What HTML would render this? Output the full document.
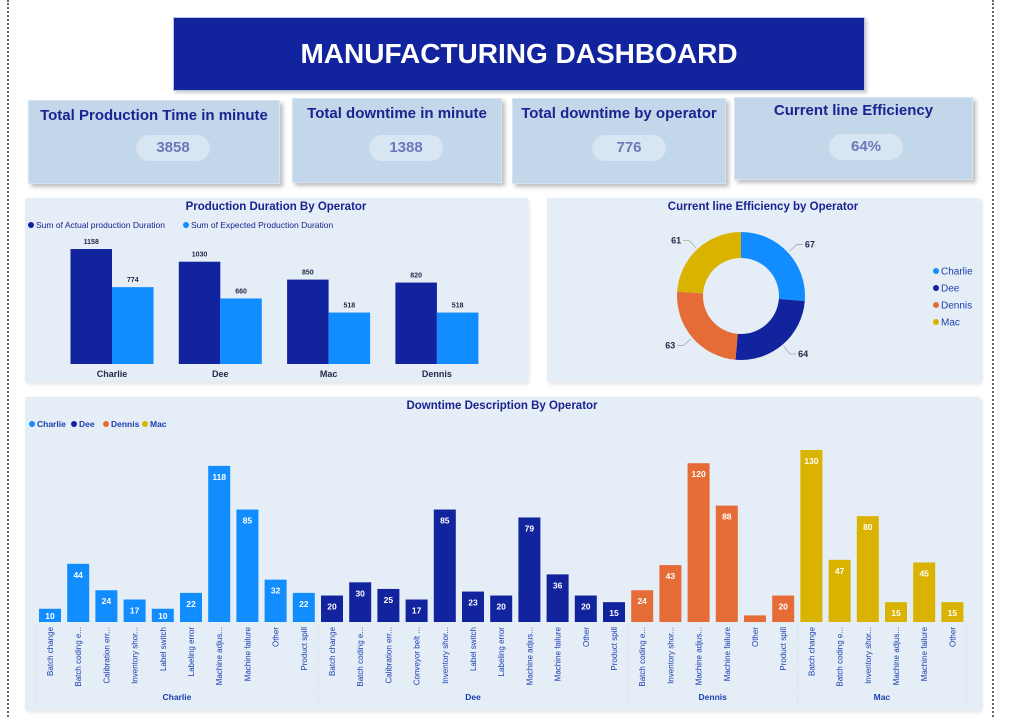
<!DOCTYPE html>
<html><head><meta charset="utf-8">
<style>
body{margin:0;width:1025px;height:717px;background:#fff;position:relative;overflow:hidden;font-family:"Liberation Sans",sans-serif;}
.abs{position:absolute;}
.card{position:absolute;background:#c2d7ea;border:1px solid #d6e3f1;box-shadow:3px 3px 4px rgba(0,0,0,0.25);text-align:center;}
.card .t{color:#1a238f;font-weight:bold;font-size:15px;margin-top:6px;}
.pill{position:absolute;background:#d8e5f2;border-radius:13px;color:#6c78b8;font-weight:bold;font-size:15px;line-height:26px;width:74px;height:26px;}
.panel{position:absolute;background:#e5edf7;box-shadow:2px 2px 4px rgba(0,0,0,0.12);}
</style></head><body>
<div class="abs" style="left:7px;top:0;width:0;height:717px;border-left:2px dotted #666;"></div>
<div class="abs" style="left:992px;top:0;width:0;height:717px;border-left:2px dotted #666;"></div>

<div class="abs" style="left:173px;top:17px;width:690px;height:72px;background:#12239e;border:1px solid #b9c3e6;box-shadow:2px 2px 3px rgba(0,0,0,0.2);color:#fff;font-weight:bold;font-size:28px;line-height:72px;text-align:center;">MANUFACTURING DASHBOARD</div>

<div class="card" style="left:28px;top:100px;width:250px;height:82px;"><div class="t">Total Production Time in minute</div><div class="pill" style="left:107px;top:34px;">3858</div></div>
<div class="card" style="left:292px;top:98px;width:208px;height:83px;"><div class="t">Total downtime in minute</div><div class="pill" style="left:76px;top:36px;">1388</div></div>
<div class="card" style="left:512px;top:98px;width:212px;height:84px;"><div class="t">Total downtime by operator</div><div class="pill" style="left:79px;top:36px;">776</div></div>
<div class="card" style="left:734px;top:97px;width:237px;height:81px;"><div class="t" style="margin-top:4px">Current line Efficiency</div><div class="pill" style="left:94px;top:36px;">64%</div></div>

<div class="panel" style="left:25px;top:198px;width:502px;height:184px;"></div>
<div class="panel" style="left:547px;top:198px;width:433px;height:184px;"></div>
<div class="panel" style="left:25px;top:397px;width:955px;height:313px;"></div>

<svg id="svg" class="abs" style="left:0;top:0" width="1025" height="717" xmlns="http://www.w3.org/2000/svg" font-family="Liberation Sans, sans-serif">
<text x="276" y="210" text-anchor="middle" font-size="11.5" font-weight="bold" fill="#1a238f">Production Duration By Operator</text>
<g font-size="8.5" fill="#1a238f">
<circle cx="31" cy="225" r="3" fill="#12239e"/><text x="36" y="228">Sum of Actual production Duration</text>
<circle cx="186" cy="225" r="3" fill="#118dff"/><text x="191" y="228">Sum of Expected Production Duration</text>
</g>
<text x="763" y="210" text-anchor="middle" font-size="11.5" font-weight="bold" fill="#1a238f">Current line Efficiency by Operator</text>
<text x="502" y="409" text-anchor="middle" font-size="11.5" font-weight="bold" fill="#1a238f">Downtime Description By Operator</text>
<g id="prod"></g><g id="donut"></g><g id="down"></g>
</svg>
<script>
const ops = ["Charlie","Dee","Mac","Dennis"];
const actual = [1158,1030,850,820];
const expected = [774,660,518,518];

const donutOps = ["Charlie","Dee","Dennis","Mac"];
const donutVals = [67,64,63,61];

const downOps = ["Charlie","Dee","Dennis","Mac"];
const downCats = [
 ["Batch change","Batch coding e...","Calibration err...","Inventory shor...","Label switch","Labeling error","Machine adjus...","Machine failure","Other","Product spill"],
 ["Batch change","Batch coding e...","Calibration err...","Conveyor belt ...","Inventory shor...","Label switch","Labeling error","Machine adjus...","Machine failure","Other","Product spill"],
 ["Batch coding e...","Inventory shor...","Machine adjus...","Machine failure","Other","Product spill"],
 ["Batch change","Batch coding e...","Inventory shor...","Machine adjus...","Machine failure","Other"]
];
const downVals = [
 [10,44,24,17,10,22,118,85,32,22],
 [20,30,25,17,85,23,20,79,36,20,15],
 [24,43,120,88,5,20],
 [130,47,80,15,45,15]
];

const NS="http://www.w3.org/2000/svg";
const colors={Charlie:"#118dff",Dee:"#12239e",Dennis:"#e66c37",Mac:"#d9b300"};
function mk(parent,tag,attrs,txt){const e=document.createElementNS(NS,tag);for(const k in attrs)e.setAttribute(k,attrs[k]);if(txt!==undefined)e.textContent=txt;parent.appendChild(e);return e;}

// Production chart
(function(){
 const g=document.getElementById('prod');
 const base=364, yScale=v=>base-v*0.0993, xC=i=>112+i*108.3, bw=41.5;
 ops.forEach((o,i)=>{
  const c=xC(i);
  let r=mk(g,'rect',{x:c-bw,y:yScale(actual[i]),width:bw,height:base-yScale(actual[i]),fill:'#12239e'});
  
  
  let r2=mk(g,'rect',{x:c,y:yScale(expected[i]),width:bw,height:base-yScale(expected[i]),fill:'#118dff'});
  
  
  let t=mk(g,'text',{x:c-bw/2,y:yScale(actual[i])-5,'text-anchor':'middle','font-size':7,'font-weight':'bold',fill:'#252a4a'},actual[i]);
  
  
  let t2=mk(g,'text',{x:c+bw/2,y:yScale(expected[i])-5,'text-anchor':'middle','font-size':7,'font-weight':'bold',fill:'#252a4a'},expected[i]);
  
  
  let l=mk(g,'text',{x:c,y:377,'text-anchor':'middle','font-size':9,'font-weight':'bold',fill:'#252a4a'},o);
  
  
 });
})();

// Donut
(function(){
 const g=document.getElementById('donut');
 const cx=741,cy=296,R=64,r=38;
 const total=donutVals.reduce((a,b)=>a+b,0);
 let a0=0;
 donutVals.forEach((v,i)=>{
  const a1=a0+v/total*2*Math.PI;
  const p=(a,rad)=>[cx+rad*Math.sin(a),cy-rad*Math.cos(a)];
  const [x0,y0]=p(a0,R),[x1,y1]=p(a1,R),[x2,y2]=p(a1,r),[x3,y3]=p(a0,r);
  const lg=(a1-a0)>Math.PI?1:0;
  const path=mk(g,'path',{d:`M${x0},${y0}A${R},${R} 0 ${lg} 1 ${x1},${y1}L${x2},${y2}A${r},${r} 0 ${lg} 0 ${x3},${y3}Z`,fill:colors[donutOps[i]]});
  
  
  const am=(a0+a1)/2;
  const [lx0,ly0]=p(am,R+2),[lx1,ly1]=p(am,R+12);
  const right=Math.sin(am)>0;
  mk(g,'polyline',{points:`${lx0},${ly0} ${lx1},${ly1} ${lx1+(right?6:-6)},${ly1}`,fill:'none',stroke:'#aaa','stroke-width':0.8});
  const t=mk(g,'text',{x:lx1+(right?8:-8),y:ly1+3,'text-anchor':right?'start':'end','font-size':9,'font-weight':'bold',fill:'#252a4a'},v);
  
  
  a0=a1;
 });
 donutOps.forEach((o,i)=>{
  const y=271+i*17;
  mk(g,'circle',{cx:936,cy:y,r:3,fill:colors[o]});
  const t=mk(g,'text',{x:941,y:y+3.5,'font-size':10,fill:'#1a3fb0'},o);
  
  
 });
})();

// Downtime chart
(function(){
 const g=document.getElementById('down');
 const legendX=[30,72,104,143];
 downOps.forEach((o,i)=>{
  const lx=legendX[i];
  mk(g,'circle',{cx:lx+2,cy:424,r:3,fill:colors[o]});
  const t=mk(g,'text',{x:lx+7,y:427,'font-size':8.5,'font-weight':'bold',fill:'#1a3fb0'},o);
  
  
 });
 const base=622, ys=v=>base-v*1.323, step=28.2, bw=22, x0=39;
 let idx=0;
 const sep=x=>mk(g,'line',{x1:x,y1:624,x2:x,y2:705,stroke:'#c7cfdc','stroke-width':0.8,'stroke-dasharray':'1,2'});
 sep(x0-3);
 downOps.forEach((o,gi)=>{
  const startIdx=idx;
  downVals[gi].forEach((v,ci)=>{
   const x=x0+idx*step, top=ys(v);
   const r=mk(g,'rect',{x:x,y:top,width:bw,height:base-top,fill:colors[o]});
   
   
   if(v>=10){
    const t=mk(g,'text',{x:x+bw/2,y:Math.min(top+14,base-3),'text-anchor':'middle','font-size':8.5,'font-weight':'bold',fill:'#fff'},v);
    
    
   }
   const cx=x+bw/2+3;
   const t2=mk(g,'text',{x:cx,y:627,'text-anchor':'end','font-size':8,fill:'#1a3fb0',transform:`rotate(-90 ${cx} 627)`},downCats[gi][ci]);
   
   
   idx++;
  });
  const mid=(x0+startIdx*step + x0+(idx-1)*step+bw)/2;
  const t=mk(g,'text',{x:mid,y:700,'text-anchor':'middle','font-size':8.5,'font-weight':'bold',fill:'#1a3fb0'},o);
  
  
  sep(x0+idx*step-3);
 });
})();
</script>
</body></html>
